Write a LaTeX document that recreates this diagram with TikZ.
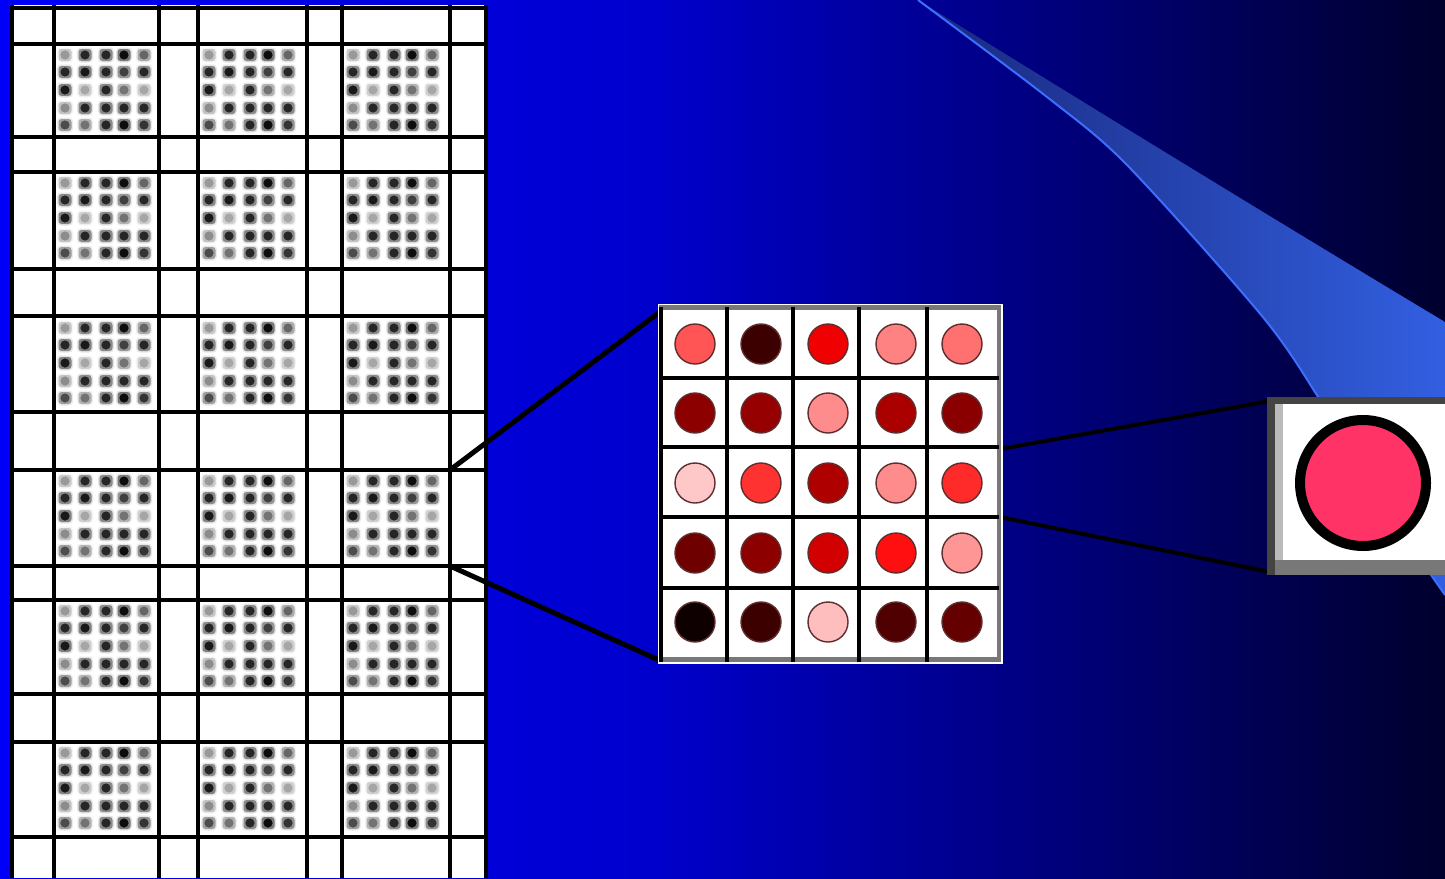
\documentclass[tikz,border=0pt]{standalone}
\usetikzlibrary{calc}
\definecolor{bgA}{RGB}{0,0,250}
\definecolor{bgB}{RGB}{0,0,205}
\definecolor{bgC}{RGB}{0,0,45}
\definecolor{streakA}{RGB}{25,40,125}
\definecolor{streakB}{RGB}{50,95,225}
\definecolor{streakEdge}{RGB}{60,110,255}
\definecolor{ringC}{RGB}{95,45,45}
\definecolor{boxDark}{RGB}{68,68,68}
\definecolor{boxMid}{RGB}{120,120,120}
\definecolor{boxLight}{RGB}{187,187,187}
\definecolor{bigSpot}{RGB}{255,51,102}
\definecolor{gridGray}{RGB}{120,120,120}
\begin{document}
\begin{tikzpicture}[x=1pt,y=-1pt,
  gridline/.style={line width=4.5pt, black},
  link/.style={line width=5pt, black, line cap=round},
  cellline/.style={line width=4.5pt, black},
  spotring/.style={line width=1.4pt, draw=ringC}]
\useasboundingbox (0,0) rectangle (1445,878);
% background
\shade[left color=bgA, right color=bgB] (0,0) rectangle (650.5,878);
\shade[left color=bgB, right color=bgC] (650,0) rectangle (1445,878);
% light streak
\shade[left color=streakA, right color=streakB]
  (918,0) .. controls (1120,125) and (1300,235) .. (1445,322)
  -- plot[smooth, tension=0.5] coordinates {(1445,595) (1380,500) (1320,400) (1262,316) (1127,165) (1047,97) (918,0)} -- cycle;
\draw[streakEdge, line width=2pt]
  plot[smooth, tension=0.5] coordinates {(1445,595) (1380,500) (1320,400) (1262,316) (1127,165) (1047,97) (918,0)};
% left panel: scanned microarray
\fill[white] (10,5) rectangle (488,878);
\foreach \bx in {57,201,345}{
  \foreach \by in {47,175,320,473,603,745}{
    \foreach \dx/\dy/\k in {8/8/40, 28/8/85, 49/8/85, 67/8/95, 87/8/60,
                            8/25/85, 28/25/90, 49/25/85, 67/25/75, 87/25/85,
                            8/43/90, 28/43/35, 49/43/85, 67/43/55, 87/43/35,
                            8/61/45, 28/61/85, 49/61/85, 67/61/85, 87/61/85,
                            8/78/70, 28/78/55, 49/78/85, 67/78/95, 87/78/80}{
      \pgfmathtruncatemacro{\ka}{\k*0.12}
      \pgfmathtruncatemacro{\kb}{\k*0.55}
      \fill[black!\ka, rounded corners=4pt] (\bx+\dx-8,\by+\dy-7.5) rectangle (\bx+\dx+8,\by+\dy+7.5);
      \fill[black!\kb, rounded corners=3pt] (\bx+\dx-6.5,\by+\dy-6) rectangle (\bx+\dx+6.5,\by+\dy+6);
      \fill[black!\k] (\bx+\dx,\by+\dy) circle (4.6);
    }
  }
}
\foreach \y in {8,44,137,172,269,316,412,470,566,600,694,742,837}{
  \draw[gridline] (10,\y) -- (488,\y);
}
\foreach \x in {12,54,159,198,307,342,450,486}{
  \draw[gridline] (\x,5) -- (\x,878);
}
% named connector ends
\coordinate (zoomTop) at (450,470);
\coordinate (zoomBot) at (450,566);
\coordinate (gridNW) at (661,311);
\coordinate (gridSW) at (661,661);
\coordinate (gridE1) at (1000,449);
\coordinate (gridE2) at (1000,517);
\coordinate (boxNW) at (1270,401);
\coordinate (boxSW) at (1270,572);
\draw[link] (zoomTop) -- (gridNW);
\draw[link] (zoomBot) -- (gridSW);
\draw[link, line width=4pt] (gridE1) -- (boxNW);
\draw[link, line width=4pt] (gridE2) -- (boxSW);
% middle grid
\node[fill=white, inner sep=0pt, minimum width=345pt, minimum height=360pt] (grid) at (830.5,484) {};
\draw[gridGray, line width=5pt] (659,307) -- (1001,307);
\draw[gridGray, line width=4pt] (999,305) -- (999,661);
\draw[gridGray, line width=5pt] (659,659) -- (1001,659);
\foreach \x in {661,727,793,859,927}{
  \draw[cellline] (\x,307) -- (\x,662);
}
\foreach \y in {378,447,517,588}{
  \draw[cellline] (659,\y) -- (999,\y);
}
\foreach \cx/\cy/\h in {695/344/FF5555, 761/344/3C0000, 828/344/F00000, 896/344/FF8282, 962/344/FF7070,
                        695/413/8C0000, 761/413/960000, 828/413/FF8C8C, 896/413/AA0000, 962/413/8A0000,
                        695/483/FFC8C8, 761/483/FF3232, 828/483/AF0000, 896/483/FF8C8C, 962/483/FF2A2A,
                        695/553/6E0000, 761/553/8C0000, 828/553/D20000, 896/553/FF0F0F, 962/553/FF9696,
                        695/622/0F0000, 761/622/3C0000, 828/622/FFBEBE, 896/622/500000, 962/622/640000}{
  \definecolor{spotc}{HTML}{\h}
  \draw[spotring, fill=spotc] (\cx,\cy) circle (20);
}
% right box: single spot
\fill[white] (1267,397) rectangle (1445,575);
\fill[boxDark] (1267,397) rectangle (1445,404);
\fill[boxMid] (1267,560) rectangle (1445,575);
\fill[boxDark] (1267,397) rectangle (1275,575);
\fill[boxLight] (1275,404) rectangle (1283,560);
\node[circle, draw=black, line width=10pt, fill=bigSpot, minimum size=126pt, inner sep=0pt] (spot) at (1363,483) {};
\end{tikzpicture}
\end{document}
